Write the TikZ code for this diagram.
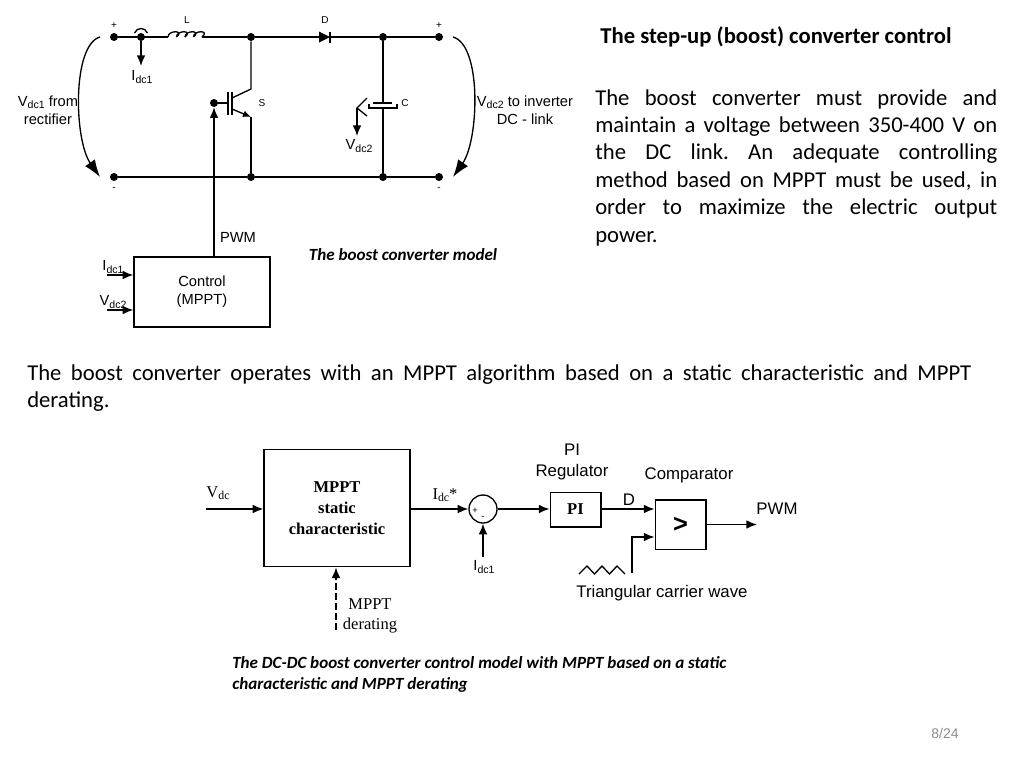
\documentclass[tikz,border=0pt]{standalone}
\usepackage{graphicx}
\usepackage{fontspec}
\setmainfont{Liberation Sans}
\newfontfamily\slidefont{Carlito}
\newfontfamily\blockfont{Liberation Serif}
\usetikzlibrary{arrows.meta, positioning, calc}
\definecolor{pagegray}{RGB}{140, 140, 140}
\newcommand{\sbs}[1]{\raisebox{-.35ex}{\scalebox{.72}{#1}}}
\tikzset{
    wire/.style={line width=1pt},
    sig/.style={line width=1pt, -{Latex[length=8pt,width=6.5pt]}},
    bigsig/.style={line width=1pt, -{Latex[length=13pt,width=9pt]}},
    dot/.style={circle, fill=black, inner sep=0pt, minimum size=6pt},
    blockbox/.style={draw, line width=1pt, inner sep=0pt, align=center},
    small/.style={font=\fontsize{7.5}{9}\selectfont},
    label/.style={font=\fontsize{11}{13.5}\selectfont, align=center},
    arial/.style={font=\fontsize{12.6}{15.5}\selectfont, align=center},
    serif/.style={font=\blockfont\fontsize{12.4}{15.5}\selectfont, align=center},
    body/.style={font=\slidefont\fontsize{17}{20.6}\selectfont\frenchspacing, anchor=north west, inner sep=0pt, align=justify},
    caption/.style={font=\slidefont\bfseries\itshape\fontsize{12.8}{15.6}\selectfont, inner sep=0pt}
}
\begin{document}
\begin{tikzpicture}[x=0.75pt, y=-0.75pt]
    \useasboundingbox (0,0) rectangle (1024,768);

    % Texts of the slide
    \node[font=\slidefont\bfseries\fontsize{17}{20}\selectfont, inner sep=0pt] (title) at (776,37) {The step-up (boost) converter control};
    \node[body, text width=301.5pt] (intro) at (595,89) {The boost converter must provide and\linebreak maintain a voltage between 350-400 V on\linebreak the DC link. An adequate controlling\linebreak method based on MPPT must be used, in\linebreak order to maximize the electric output\linebreak power.};
    \node[body, text width=708pt] (middle) at (27,364) {The boost converter operates with an MPPT algorithm based on a static characteristic and MPPT\linebreak derating.};
    \node[caption] (capa) at (403,255) {The boost converter model};
    \node[caption, anchor=north west, align=left] (capb) at (232,656) {The DC-DC boost converter control model with MPPT based on a static\\characteristic and MPPT derating};
    \node[font=\fontsize{10.5}{13}\selectfont, text=pagegray, inner sep=0pt] (page) at (945,733) {8/24};

    % Rails
    \node[dot] (pa) at (114,37) {};
    \node[dot] (sense) at (141,37) {};
    \node[dot] (nsw) at (251,37) {};
    \node[dot] (ncap) at (383,37) {};
    \node[dot] (pb) at (439,37) {};
    \node[dot] (ma) at (114,177) {};
    \node[dot] (msw) at (251,177) {};
    \node[dot] (mcap) at (383,177) {};
    \node[dot] (mb) at (439,177) {};
    \coordinate (la) at (168,37);
    \coordinate (lb) at (202,37);
    \coordinate (da) at (319,37);
    \coordinate (db) at (330,37);
    \draw[wire] (pa) -- (la) (lb) -- (nsw) -- (da) (db) -- (ncap) -- (pb);
    \draw[wire] (ma) -- (msw) -- (mcap) -- (mb);
    \foreach \i in {0,...,3}
        \draw[wire] ($(la)+(8.5*\i,0)$) .. controls +(0,-7) and +(8.5,-7) .. +(8.5,0);
    \fill (319,31.5) -- (db) -- (319,42.5) -- cycle;
    \draw[wire] (330,31.5) -- (330,42.5);
    \node[small] (lL) at (187,20) {L};
    \node[small] (lD) at (325,20) {D};
    \node[small] (lpa) at (114,26) {+};
    \node[small] (lpb) at (439,26) {+};
    \node[small] (lma) at (114,189) {-};
    \node[small] (lmb) at (439,189) {-};

    % Current sensing
    \coordinate (isense) at (141,66);
    \draw[sig] (sense) -- (isense);
    \draw[wire] (134.5,33) .. controls (137,27) and (145,27) .. (147.5,33);
    \node[label] (lidc) at (142,77) {I\sbs{dc1}};

    % Switch
    \node[dot] (gate) at (214,103) {};
    \coordinate (swtop) at (251,89);
    \coordinate (swbot) at (251,117);
    \draw[wire] (gate) -- (228,103);
    \draw[line width=1.2pt] (228,92) -- (228,115) (232,92) -- (232,115);
    \draw[wire] (nsw) -- (swtop) -- (232,98);
    \draw[wire, -{Latex[length=6pt,width=5pt]}] (232,109) -- (swbot);
    \draw[wire] (swbot) -- (msw);
    \node[small] (lS) at (262,103) {S};

    % Capacitor
    \coordinate (capa1) at (383,103);
    \coordinate (capb1) at (383,108);
    \draw[wire] (ncap) -- (capa1) (capb1) -- (mcap);
    \draw[line width=1.2pt] (373,103) -- (392,103);
    \draw[wire] (369,104) -- (369,108) -- (397,108) -- (397,104);
    \node[small] (lC) at (405,103) {C};
    \coordinate (vtip) at (357,108);
    \coordinate (vend) at (357,136);
    \draw[wire] (367,98) -- (vtip) -- (367,116);
    \draw[sig] (vtip) -- (vend);
    \node[label] (lvdc) at (359,146) {V\sbs{dc2}};

    % Voltage arrows
    \coordinate (ala) at (100,37);
    \coordinate (alb) at (100,177);
    \coordinate (ara) at (453,37);
    \coordinate (arb) at (453,177);
    \draw[bigsig] (ala) .. controls (72,45) and (74,140) .. (alb);
    \draw[bigsig] (ara) .. controls (482,45) and (479,140) .. (arb);
    \node[label] (lva) at (48,110) {V\sbs{dc1} from\\rectifier};
    \node[label] (lvb) at (525,110) {V\sbs{dc2} to inverter\\DC - link};

    % Control block
    \node[blockbox, label, minimum width=102pt, minimum height=52.5pt] (control) at (202,292) {Control\\(MPPT)};
    \coordinate (ctop) at (214,257);
    \coordinate (cia) at (107,275);
    \coordinate (cib) at (107,310);
    \draw[sig] (ctop) -- (gate);
    \draw[sig] (cia) -- (cia -| control.west);
    \draw[sig] (cib) -- (cib -| control.west);
    \node[label] (lpwm) at (238,237) {PWM};
    \node[label] (lci) at (113,267) {I\sbs{dc1}};
    \node[label] (lcv) at (113,302) {V\sbs{dc2}};

    % MPPT chain
    \node[blockbox, font=\blockfont\bfseries\fontsize{12.4}{15.5}\selectfont, minimum width=109.5pt, minimum height=88pt] (mppt) at (337,508) {MPPT\\static\\characteristic};
    \node[draw, circle, line width=1pt, minimum size=21pt, inner sep=0pt] (sum) at (483,509) {};
    \node[blockbox, font=\blockfont\bfseries\fontsize{12.4}{15}\selectfont, minimum width=38pt, minimum height=26pt] (pi) at (575.5,509.5) {PI};
    \node[blockbox, font=\bfseries\fontsize{19}{22}\selectfont, minimum width=38pt, minimum height=37pt] (comp) at (680.5,524.5) {>};
    \coordinate (vin) at (206,509);
    \coordinate (derate) at (336,630);
    \coordinate (ifb) at (483,557);
    \coordinate (pwmout) at (757,524.5);
    \coordinate (carr) at (632,573);
    \draw[sig] (vin) -- (vin -| mppt.west);
    \draw[sig] (mppt.east |- sum) -- (sum);
    \draw[sig] (sum) -- (sum -| pi.west);
    \draw[sig] (pi.east |- sum) -- (sum -| comp.west);
    \draw[sig] (comp.east) -- (pwmout);
    \draw[sig] (ifb) -- (sum);
    \draw[sig, dash pattern=on 5pt off 2.5pt] (derate) -- (derate |- mppt.south);
    \draw[sig] (carr) -- (632,537) -- (632,537 -| comp.west);
    \draw[wire] (579,574) -- (587,566) -- (594.5,574) -- (602,566) -- (609.5,574) -- (617,566) -- (625,574);
    \node[font=\fontsize{7}{8}\selectfont, inner sep=0pt] (lplus) at (475,511) {+};
    \node[font=\fontsize{7}{8}\selectfont, inner sep=0pt] (lminus) at (483,518) {-};
    \node[serif] (lvin) at (218,493) {V\sbs{dc}};
    \node[serif] (liref) at (445,495) {I\sbs{dc}*};
    \node[label] (lifb) at (484,567) {I\sbs{dc1}};
    \node[serif] (lder) at (370,616) {MPPT\\derating};
    \node[arial] (lpi) at (572,462) {PI\\Regulator};
    \node[arial] (lcomp) at (689,475) {Comparator};
    \node[arial] (lduty) at (629,500) {D};
    \node[arial] (lpwmb) at (777,509) {PWM};
    \node[arial] (ltri) at (662,593) {Triangular carrier wave};
\end{tikzpicture}
\end{document}
